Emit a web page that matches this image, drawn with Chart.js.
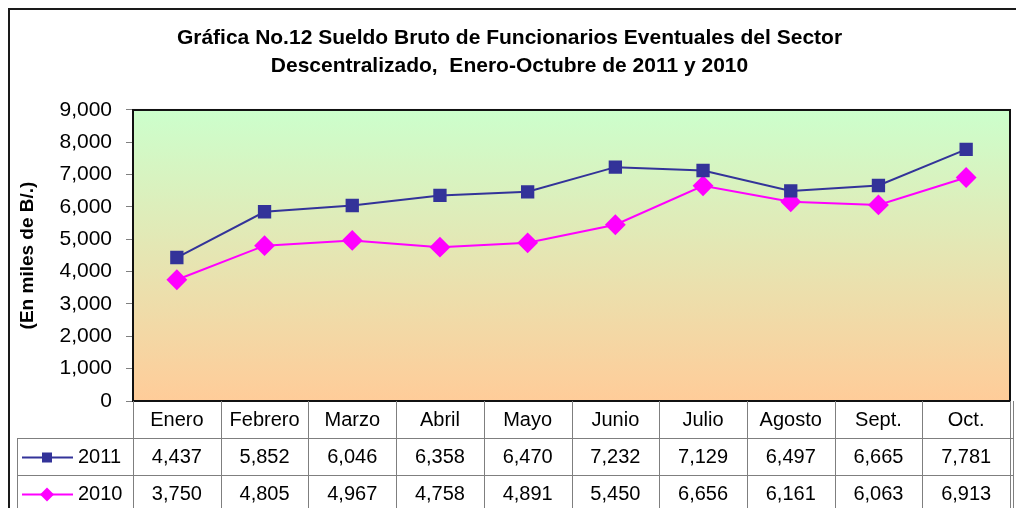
<!DOCTYPE html>
<html>
<head>
<meta charset="utf-8">
<script src="https://cdn.jsdelivr.net/npm/chart.js@4"></script>
<style>
  html, body { margin: 0; padding: 0; background: #fff; }
  #wrap { width: 1016px; height: 508px; }
</style>
</head>
<body>
<div id="wrap"><canvas id="chart"></canvas></div>
<script>
// Sueldo bruto, funcionarios eventuales (en miles de B/.)
const months = ['Enero', 'Febrero', 'Marzo', 'Abril', 'Mayo', 'Junio', 'Julio', 'Agosto', 'Sept.', 'Oct.'];
const values2011 = [4437, 5852, 6046, 6358, 6470, 7232, 7129, 6497, 6665, 7781];
const values2010 = [3750, 4805, 4967, 4758, 4891, 5450, 6656, 6161, 6063, 6913];
const yTicks = [0, 1000, 2000, 3000, 4000, 5000, 6000, 7000, 8000, 9000];

const fmt = v => v.toLocaleString('en-US');
const FONT = 'Arial, "Liberation Sans", sans-serif';

// white page + chart frame (left and top edge only, the rest is cut off)
const framePlugin = {
    id: 'frame',
    beforeDraw(chart) {
        const ctx = chart.ctx;
        ctx.save();
        ctx.fillStyle = '#fff';
        ctx.fillRect(0, 0, chart.width, chart.height);
        ctx.strokeStyle = '#1a1a1a';
        ctx.lineWidth = 2;
        ctx.beginPath();
        ctx.moveTo(9, chart.height);
        ctx.lineTo(9, 9);
        ctx.lineTo(chart.width, 9);
        ctx.stroke();
        ctx.restore();
    }
};

// green -> peach gradient inside the plot area
const plotBgPlugin = {
    id: 'plotBg',
    beforeDatasetsDraw(chart) {
        const { ctx, chartArea: a } = chart;
        const g = ctx.createLinearGradient(0, a.top, 0, a.bottom);
        g.addColorStop(0, '#ccffcc');
        g.addColorStop(1, '#ffcc99');
        ctx.save();
        ctx.fillStyle = g;
        ctx.fillRect(a.left, a.top, a.right - a.left, a.bottom - a.top);
        ctx.restore();
    },
    afterDatasetsDraw(chart) {
        const { ctx, chartArea: a } = chart;
        ctx.save();
        ctx.strokeStyle = '#111';
        ctx.lineWidth = 2;
        ctx.strokeRect(a.left, a.top, a.right - a.left, a.bottom - a.top);
        ctx.restore();
    }
};

// data table under the plot
const tablePlugin = {
    id: 'dataTable',
    afterDraw(chart) {
        const { ctx, chartArea: a } = chart;
        const n = months.length;
        const w = (a.right - a.left) / n;
        const rowH = 37;
        const top = a.bottom;
        const tableLeft = 17;
        const tableRight = 1013;
        ctx.save();
        ctx.strokeStyle = '#7f7f7f';
        ctx.lineWidth = 1;

        // horizontal lines
        ctx.beginPath();
        ctx.moveTo(tableLeft, top + rowH + 0.5);
        ctx.lineTo(tableRight, top + rowH + 0.5);
        ctx.moveTo(tableLeft, top + 2 * rowH + 0.5);
        ctx.lineTo(tableRight, top + 2 * rowH + 0.5);
        // left edge of the rows with legend keys
        ctx.moveTo(tableLeft + 0.5, top + rowH);
        ctx.lineTo(tableLeft + 0.5, chart.height);
        // column separators
        for (let i = 0; i <= n; i++) {
            const x = Math.round(a.left + i * w) + 0.5;
            ctx.moveTo(x, top);
            ctx.lineTo(x, chart.height);
        }
        ctx.moveTo(tableRight + 0.5, top);
        ctx.lineTo(tableRight + 0.5, chart.height);
        ctx.stroke();

        ctx.fillStyle = '#000';
        ctx.textAlign = 'center';
        ctx.textBaseline = 'middle';
        ctx.font = '20px ' + FONT;
        months.forEach((m, i) => {
            ctx.fillText(m, a.left + (i + 0.5) * w, top + rowH / 2 + 1);
        });

        const rows = [values2011, values2010];
        rows.forEach((vals, r) => {
            const cy = top + rowH * (r + 1) + rowH / 2 + 1;
            vals.forEach((v, i) => {
                ctx.fillText(fmt(v), a.left + (i + 0.5) * w, cy);
            });
        });

        // legend keys
        chart.data.datasets.forEach((ds, r) => {
            const cy = top + rowH * (r + 1) + rowH / 2 + 1;
            ctx.strokeStyle = ds.borderColor;
            ctx.lineWidth = 2;
            ctx.beginPath();
            ctx.moveTo(22, cy);
            ctx.lineTo(73, cy);
            ctx.stroke();
            ctx.fillStyle = ds.borderColor;
            if (ds.pointStyle === 'rect') {
                ctx.fillRect(42, cy - 5, 10, 10);
            } else {
                ctx.beginPath();
                ctx.moveTo(47, cy - 7);
                ctx.lineTo(54, cy);
                ctx.lineTo(47, cy + 7);
                ctx.lineTo(40, cy);
                ctx.closePath();
                ctx.fill();
            }
            ctx.fillStyle = '#000';
            ctx.textAlign = 'left';
            ctx.fillText(ds.label, 78, cy);
        });
        ctx.restore();
    }
};

new Chart(document.getElementById('chart'), {
    type: 'line',
    data: {
        labels: months,
        datasets: [{
            label: '2011',
            data: values2011,
            borderColor: '#333399',
            backgroundColor: '#333399',
            borderWidth: 2,
            pointStyle: 'rect',
            pointRadius: 8,
            pointHoverRadius: 8,
            tension: 0
        }, {
            label: '2010',
            data: values2010,
            borderColor: '#ff00ff',
            backgroundColor: '#ff00ff',
            borderWidth: 2,
            pointStyle: 'rectRot',
            pointRadius: 9,
            pointHoverRadius: 9,
            tension: 0
        }]
    },
    options: {
        responsive: true,
        maintainAspectRatio: false,
        animation: false,
        layout: { autoPadding: false, padding: { left: 9, right: 6, top: 10, bottom: 107 } },
        plugins: {
            legend: { display: false },
            tooltip: { enabled: false },
            title: {
                display: true,
                text: ['Gráfica No.12 Sueldo Bruto de Funcionarios Eventuales del Sector',
                       'Descentralizado,  Enero-Octubre de 2011 y 2010'],
                color: '#000',
                font: { family: FONT, size: 21, weight: 'bold', lineHeight: 1.333 },
                padding: { top: 14, bottom: 30 }
            }
        },
        scales: {
            x: {
                display: false,
                offset: true
            },
            y: {
                min: 0,
                max: 9000,
                afterBuildTicks(scale) {
                    scale.ticks = yTicks.map(v => ({ value: v }));
                },
                afterFit(scale) {
                    scale.width = 124;
                },
                border: { display: false },
                grid: {
                    drawOnChartArea: false,
                    drawTicks: true,
                    tickLength: 7,
                    color: '#808080'
                },
                ticks: {
                    padding: 14,
                    color: '#000',
                    font: { family: FONT, size: 21 },
                    callback: v => fmt(v)
                },
                title: {
                    display: true,
                    text: '(En miles de B/.)',
                    color: '#000',
                    font: { family: FONT, size: 19, weight: 'bold' },
                    padding: { top: 7, bottom: 0 }
                }
            }
        }
    },
    plugins: [framePlugin, plotBgPlugin, tablePlugin]
});
</script>
</body>
</html>
